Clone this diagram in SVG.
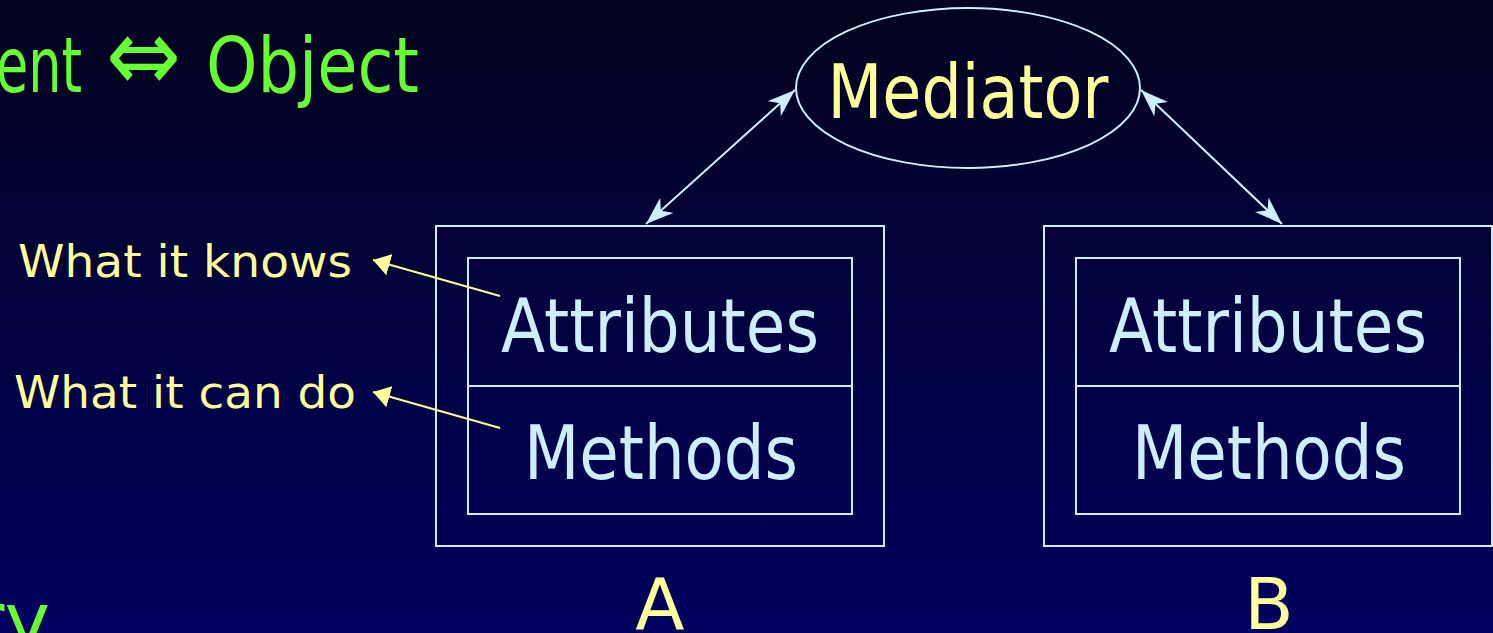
<svg xmlns="http://www.w3.org/2000/svg" width="1493" height="633" viewBox="0 0 1493 633">
  <defs>
    <linearGradient id="bg" x1="0" y1="0" x2="0" y2="1">
      <stop offset="0" stop-color="#03031f"/>
      <stop offset="1" stop-color="#00005f"/>
    </linearGradient>
    <marker id="blueHead" viewBox="0 0 28 20" refX="28" refY="10" markerWidth="28" markerHeight="20" markerUnits="userSpaceOnUse" orient="auto-start-reverse">
      <path d="M0,0 L28,10 L0,20 L8,10 z" fill="#cceeff"/>
    </marker>
    <marker id="yellowHead" viewBox="0 0 17 22" refX="17" refY="11" markerWidth="17" markerHeight="22" markerUnits="userSpaceOnUse" orient="auto">
      <path d="M0,0 L17,11 L0,22 z" fill="#ffff99"/>
    </marker>
  </defs>
  <style>
    text { font-family: "DejaVu Sans", "Liberation Sans", sans-serif; }
    .green { fill: #66ff33; }
    .yellow { fill: #ffff99; }
    .blue { fill: #cceeff; }
    .frame { fill: none; stroke: #cceeff; stroke-width: 2; }
    .link { stroke: #cceeff; stroke-width: 2; fill: none; marker-start: url(#blueHead); marker-end: url(#blueHead); }
    .note { stroke: #ffff99; stroke-width: 2; fill: none; marker-end: url(#yellowHead); }
  </style>

  <rect x="0" y="0" width="1493" height="633" fill="url(#bg)"/>

  <!-- heading fragments -->
  <text class="green" y="92" font-size="77"><tspan x="-4" textLength="86" lengthAdjust="spacingAndGlyphs">ent</tspan><tspan x="106" y="91" font-size="104" textLength="75" lengthAdjust="spacingAndGlyphs">⇔</tspan><tspan x="206" y="92" textLength="213" lengthAdjust="spacingAndGlyphs">Object</tspan></text>
  <text class="green" x="50" y="647" font-size="77" text-anchor="end">ry</text>

  <!-- mediator -->
  <g id="mediator">
    <ellipse class="frame" cx="968" cy="88" rx="172" ry="80"/>
    <text class="yellow" x="968" y="118" font-size="75" text-anchor="middle" textLength="281" lengthAdjust="spacingAndGlyphs">Mediator</text>
  </g>

  <!-- object A -->
  <g id="objectA">
    <rect class="frame" x="436" y="226" width="448" height="320"/>
    <rect class="frame" x="468" y="258" width="384" height="256"/>
    <line class="frame" x1="468" y1="386" x2="852" y2="386"/>
    <text class="blue" x="660" y="352" font-size="74" text-anchor="middle" textLength="318" lengthAdjust="spacingAndGlyphs">Attributes</text>
    <text class="blue" x="661" y="479" font-size="74" text-anchor="middle" textLength="274" lengthAdjust="spacingAndGlyphs">Methods</text>
    <text class="yellow" x="660" y="629" font-size="72" text-anchor="middle">A</text>
  </g>

  <!-- object B -->
  <g id="objectB">
    <rect class="frame" x="1044" y="226" width="448" height="320"/>
    <rect class="frame" x="1076" y="258" width="384" height="256"/>
    <line class="frame" x1="1076" y1="386" x2="1460" y2="386"/>
    <text class="blue" x="1268" y="352" font-size="74" text-anchor="middle" textLength="318" lengthAdjust="spacingAndGlyphs">Attributes</text>
    <text class="blue" x="1269" y="479" font-size="74" text-anchor="middle" textLength="274" lengthAdjust="spacingAndGlyphs">Methods</text>
    <text class="yellow" x="1269" y="629" font-size="72" text-anchor="middle">B</text>
  </g>

  <!-- callouts -->
  <g id="knows">
    <text class="yellow" x="18" y="277" font-size="44" textLength="334" lengthAdjust="spacingAndGlyphs">What it knows</text>
  </g>
  <g id="cando">
    <text class="yellow" x="14" y="408" font-size="44" textLength="342" lengthAdjust="spacingAndGlyphs">What it can do</text>
  </g>

  <!-- connectors -->
  <g id="connectors">
    <line class="link" x1="646" y1="224" x2="795" y2="90"/>
    <line class="link" x1="1282" y1="224" x2="1141" y2="90"/>
    <line class="note" x1="500" y1="296" x2="373" y2="260"/>
    <line class="note" x1="500" y1="428" x2="373" y2="392"/>
  </g>
</svg>
